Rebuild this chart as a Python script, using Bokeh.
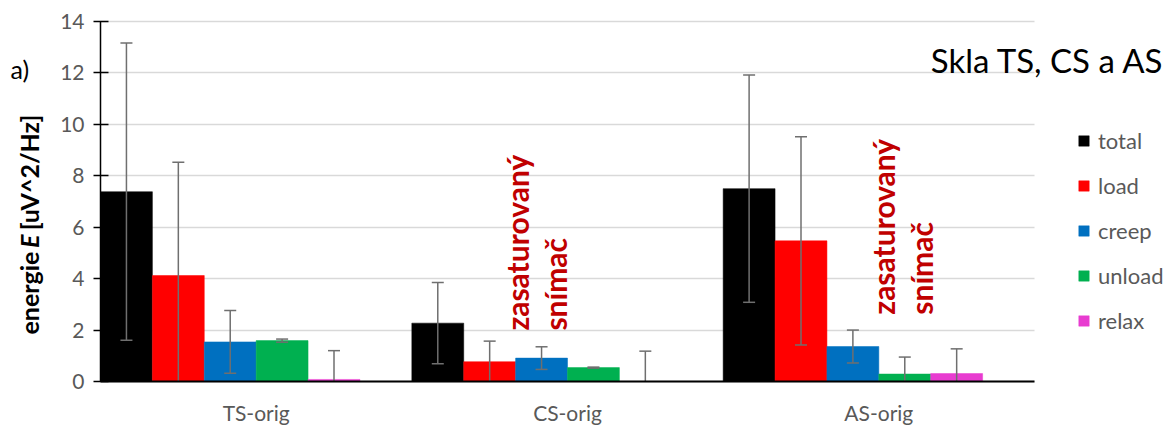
import math
from bokeh.plotting import figure
from bokeh.models import (ColumnDataSource, Range1d, Legend, LegendItem, Label, FixedTicker)
from bokeh.transform import dodge
from bokeh.embed import file_html
from bokeh.resources import INLINE

categories = ["TS-orig", "CS-orig", "AS-orig"]
series = ["total", "load", "creep", "unload", "relax"]
colors = ["#000000", "#FF0000", "#0070C0", "#00B050", "#E83CD0"]

total = [7.38, 2.27, 7.50]
total_err = [5.78, 1.58, 4.42]
load = [4.12, 0.77, 5.47]
load_err = [4.41, 0.80, 4.05]
creep = [1.54, 0.91, 1.36]
creep_err = [1.22, 0.44, 0.64]
unload = [1.59, 0.54, 0.29]
unload_err = [0.06, 0.02, 0.66]
relax = [0.08, 0.0, 0.31]
relax_err = [1.12, 1.18, 0.96]

y_ticks = [0, 2, 4, 6, 8, 10, 12, 14]

values = [total, load, creep, unload, relax]
errors = [total_err, load_err, creep_err, unload_err, relax_err]

FONT = "Lato"
GRAY = "#595959"
ERR = "#6f6f6f"

n = len(categories)
centers = [i + 0.5 for i in range(n)]
y_max = y_ticks[-1]

# the frame covers the whole canvas; the data area (0..n, 0..y_max) sits inside it
FRAME_W, FRAME_H = 1168, 426
PX_X = 934 / n
PX_Y = 360 / y_max
x_start = -100 / PX_X
x_end = n + 134 / PX_X
y_start = -(FRAME_H - 381) / PX_Y
y_end = y_max + 21 / PX_Y

p = figure(x_range=Range1d(x_start, x_end), y_range=Range1d(y_start, y_end),
           frame_width=FRAME_W, frame_height=FRAME_H,
           output_backend="svg", toolbar_location=None,
           min_border_left=0, min_border_right=0, min_border_top=0, min_border_bottom=0)
p.outline_line_color = None

bw = 1.0 / 6
renderers = []
for i, (name, vals, errs, col) in enumerate(zip(series, values, errors, colors)):
    off = -0.5 + bw * (i + 0.5)
    lo_raw = [v - e for v, e in zip(vals, errs)]
    src = ColumnDataSource(dict(xc=centers, v=vals,
                                hi=[v + e for v, e in zip(vals, errs)],
                                lo=[max(l, 0.0) for l in lo_raw],
                                locap=[l if l >= 0 else float("nan") for l in lo_raw]))
    xd = dodge("xc", off)
    r = p.vbar(x=xd, top="v", width=bw, source=src,
               fill_color=col, line_color=col, line_width=0.5)
    renderers.append(r)
    p.segment(x0=xd, y0="lo", x1=xd, y1="hi", source=src, line_color=ERR, line_width=1.5)
    p.dash(x=xd, y="hi", size=12, source=src, line_color=ERR, line_width=1.5)
    p.dash(x=xd, y="locap", size=12, source=src, line_color=ERR, line_width=1.5)

# y axis, drawn at x = 0
p.yaxis.fixed_location = 0
p.yaxis.bounds = (0, y_max)
p.yaxis.ticker = FixedTicker(ticks=y_ticks)
p.yaxis.major_label_text_font = FONT
p.yaxis.major_label_text_font_size = "21px"
p.yaxis.major_label_text_color = GRAY
p.yaxis.axis_line_color = "#000000"
p.yaxis.axis_line_width = 1.5
p.yaxis.major_tick_in = 8
p.yaxis.major_tick_out = 7
p.yaxis.major_tick_line_color = "#000000"
p.yaxis.major_tick_line_width = 1.5
p.yaxis.minor_tick_line_color = None
p.yaxis.major_label_standoff = 9

# x axis, drawn at y = 0, with category labels
p.xaxis.fixed_location = 0
p.xaxis.bounds = (0, n)
p.xaxis.ticker = FixedTicker(ticks=centers)
p.xaxis.major_label_overrides = {c: lab for c, lab in zip(centers, categories)}
p.xaxis.major_label_text_font = FONT
p.xaxis.major_label_text_font_size = "21px"
p.xaxis.major_label_text_color = GRAY
p.xaxis.axis_line_color = "#000000"
p.xaxis.axis_line_width = 2
p.xaxis.major_tick_line_color = None
p.xaxis.minor_tick_line_color = None
p.xaxis.major_label_standoff = 12

p.xgrid.visible = False
p.ygrid.ticker = FixedTicker(ticks=y_ticks)
p.ygrid.grid_line_color = "#d9d9d9"
p.ygrid.grid_line_width = 1.5
try:
    p.ygrid.cross_bounds = (0, n)
except Exception:
    p.ygrid.visible = False
    p.segment(x0=[0] * len(y_ticks), y0=y_ticks, x1=[n] * len(y_ticks), y1=y_ticks,
              line_color="#d9d9d9", line_width=1.5, level="underlay")

# legend, right of the data area
legend = Legend(items=[LegendItem(label=s, renderers=[r]) for s, r in zip(series, renderers)],
                location=(1077, 47 + (FRAME_H - 381)), orientation="vertical",
                border_line_color=None, background_fill_alpha=0,
                padding=0, margin=0, spacing=18, label_height=27,
                glyph_height=13, glyph_width=13, label_standoff=8,
                label_text_font=FONT, label_text_font_size="22px",
                label_text_color=GRAY)
p.add_layout(legend)

# title and panel label
p.add_layout(Label(x=n, y=12.52, x_offset=130, text="Skla TS, CS a AS",
                   text_align="right", text_baseline="alphabetic",
                   text_font=FONT, text_font_size="33px", text_color="#000000"))
p.add_layout(Label(x=0, y=12.17, x_offset=-90, text="a)",
                   text_align="left", text_baseline="alphabetic",
                   text_font=FONT, text_font_size="25px", text_color="#000000"))

# y-axis title (with italic E)
ang = math.pi / 2
yl = dict(x=0, x_offset=-72, angle=ang, text_baseline="middle",
          text_font=FONT, text_font_size="25px", text_color="#000000")
p.add_layout(Label(y=5.05, text="energie", text_align="right", text_font_style="bold", **yl))
p.add_layout(Label(y=5.45, text="E", text_align="center", text_font_style="bold italic", **yl))
p.add_layout(Label(y=5.88, text="[uV^2/Hz]", text_align="left", text_font_style="bold", **yl))

# annotations
for xx, yy, t in [(1.339, 1.98, "zasaturovaný"), (1.461, 1.98, "snímač"),
                  (2.512, 2.60, "zasaturovaný"), (2.634, 2.60, "snímač")]:
    p.add_layout(Label(x=xx, y=yy, text=t, angle=ang,
                       text_align="left", text_baseline="middle",
                       text_font=FONT, text_font_size="30px", text_font_style="bold",
                       text_color="#C00000"))

open("out.html", "w").write(file_html(p, INLINE))
